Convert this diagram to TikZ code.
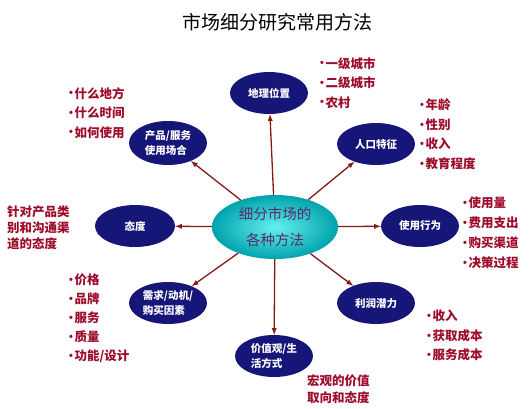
\documentclass[tikz,border=0pt]{standalone}
\usepackage{fontspec}
\setmainfont{Noto Sans CJK SC}
\newfontfamily\latinfont{Liberation Sans}
\newcommand{\itemdot}{\raisebox{1.2pt}{\latinfont\fontsize{11}{11}\selectfont •}\hspace{1.5pt}}
\usepackage{tikz}
\usetikzlibrary{shapes.geometric, arrows, positioning}
\definecolor{NavyBlob}{HTML}{161679}
\definecolor{ArrowRed}{HTML}{861818}
\definecolor{ListRed}{HTML}{9E0C2B}
\definecolor{HubText}{HTML}{5A2A6E}
\definecolor{TealLight}{HTML}{66F0EE}
\definecolor{TealDark}{HTML}{00A3AD}

\begin{document}
\begin{tikzpicture}[x=1pt, y=-1pt,
    blob/.style={ellipse, fill=NavyBlob, text=white, minimum width=78pt, minimum height=42pt, inner sep=0pt, align=left, font=\fontsize{10.5}{15}\selectfont\bfseries},
    hub/.style={ellipse, inner color=TealLight, outer color=TealDark, minimum width=126pt, minimum height=64pt, inner sep=0pt, align=center, text=HubText, font=\fontsize{14.5}{26}\selectfont},
    items/.style={anchor=north west, inner sep=0pt, align=left, text=ListRed, font=\fontsize{12.5}{19.5}\selectfont\bfseries},
    link/.style={->, >=latex, draw=ArrowRed, line width=1.3pt}]
  \useasboundingbox (0,0) rectangle (530,408);

  \node (title) at (277,22) [font=\fontsize{19}{22}\selectfont] {市场细分研究常用方法};

  \node (hub) at (275,227) [hub] {细分市场的\\各种方法};

  \node (geo) at (269,93) [blob] {地理位置};
  \node (people) at (376,144) [blob] {人口特征};
  \node (usage) at (420,226) [blob] {使用行为};
  \node (profit) at (376,303) [blob] {利润潜力};
  \node (value) at (274,356) [blob] {价值观/生\\活方式};
  \node (need) at (168,303) [blob] {需求/动机/\\购买因素};
  \node (attitude) at (135,226) [blob, minimum width=80pt] {态度};
  \node (occasion) at (168,143) [blob, minimum height=44pt] {产品/服务\\使用场合};

  \node (geoList) at (320,57) [items] {\itemdot 一级城市\\\itemdot 二级城市\\\itemdot 农村};
  \node (peopleList) at (420,99) [items] {\itemdot 年龄\\\itemdot 性别\\\itemdot 收入\\\itemdot 教育程度};
  \node (usageList) at (463,197) [items, font=\fontsize{12.5}{20}\selectfont\bfseries] {\itemdot 使用量\\\itemdot 费用支出\\\itemdot 购买渠道\\\itemdot 决策过程};
  \node (profitList) at (427,310) [items] {\itemdot 收入\\\itemdot 获取成本\\\itemdot 服务成本};
  \node (valueText) at (307,374) [items, font=\fontsize{12.5}{17}\selectfont\bfseries] {宏观的价值\\取向和态度};
  \node (needList) at (69,274) [items, font=\fontsize{12.5}{19}\selectfont\bfseries] {\itemdot 价格\\\itemdot 品牌\\\itemdot 服务\\\itemdot 质量\\\itemdot 功能/设计};
  \node (attText) at (7,206) [items, font=\fontsize{12.5}{16}\selectfont\bfseries] {针对产品类\\别和沟通渠\\道的态度};
  \node (occList) at (69,87) [items] {\itemdot 什么地方\\\itemdot 什么时间\\\itemdot 如何使用};

  \draw[link] (hub) -- (geo);
  \draw[link] (hub) -- (people);
  \draw[link] (hub) -- (usage);
  \draw[link] (hub) -- (profit);
  \draw[link] (hub) -- (value);
  \draw[link] (hub) -- (need);
  \draw[link] (hub) -- (attitude);
  \draw[link] (hub) -- (occasion);
\end{tikzpicture}
\end{document}
